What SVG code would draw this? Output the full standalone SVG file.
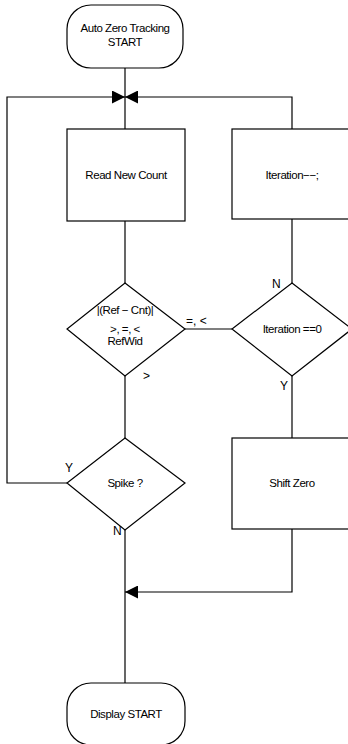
<svg xmlns="http://www.w3.org/2000/svg" width="348" height="744" viewBox="0 0 348 744">
<style>
.s{fill:#fff;stroke:#000;stroke-width:1.2}
.c{fill:none;stroke:#000;stroke-width:1.2}
.t{font-family:"Liberation Sans",Arial,sans-serif;font-size:11.5px;letter-spacing:-0.45px;fill:#000;text-anchor:middle}
.l{font-family:"Liberation Sans",Arial,sans-serif;font-size:12px;fill:#000}
</style>
<defs>
<marker id="ah" viewBox="0 0 10 10" refX="10" refY="5" markerWidth="16" markerHeight="13" markerUnits="userSpaceOnUse" orient="auto">
<path d="M0,0 L10,5 L0,10 z" fill="#000"/>
</marker>
</defs>
<rect width="348" height="744" fill="#fff"/>
<g id="connectors">
<path class="c" d="M125,68 V129"/>
<path class="c" d="M125,221 V283"/>
<path class="c" d="M125,376 V438"/>
<path class="c" d="M125,530 V683"/>
<path class="c" d="M67,483 H7 V97 H125" marker-end="url(#ah)"/>
<path class="c" d="M292,129 V97 H125" marker-end="url(#ah)"/>
<path class="c" d="M292,219 V283"/>
<path class="c" d="M185,329 H232"/>
<path class="c" d="M292,376 V438"/>
<path class="c" d="M292,529 V592 H125" marker-end="url(#ah)"/>
</g>
<g id="start">
<rect class="s" x="67" y="5" width="116" height="63" rx="24" ry="24"/>
<text class="t" x="125" y="32">Auto Zero Tracking</text>
<text class="t" x="125" y="46">START</text>
</g>
<g id="read">
<rect class="s" x="67" y="129" width="118" height="92"/>
<text class="t" x="126" y="179">Read New Count</text>
</g>
<g id="iterdec">
<rect class="s" x="232" y="129" width="120" height="90"/>
<text class="t" x="292" y="179">Iteration−−;</text>
</g>
<g id="compare">
<path class="s" d="M125,283 L185,329 L125,376 L67,329 Z"/>
<text class="t" x="125" y="314">|(Ref − Cnt)|</text>
<text class="t" x="125" y="333">&gt;, =, &lt;</text>
<text class="t" x="125" y="345">RefWid</text>
<text class="l" x="186" y="325">=, &lt;</text>
<text class="l" x="143" y="380">&gt;</text>
</g>
<g id="iterzero">
<path class="s" d="M292,283 L352,329 L292,376 L232,329 Z"/>
<text class="t" x="292" y="333">Iteration ==0</text>
<text class="l" x="272" y="288">N</text>
<text class="l" x="280" y="390">Y</text>
</g>
<g id="spike">
<path class="s" d="M125,438 L185,483 L125,530 L67,483 Z"/>
<text class="t" x="125" y="487">Spike ?</text>
<text class="l" x="65" y="472">Y</text>
<text class="l" x="113" y="535">N</text>
</g>
<g id="shift">
<rect class="s" x="232" y="438" width="120" height="91"/>
<text class="t" x="292" y="487">Shift Zero</text>
</g>
<g id="display">
<rect class="s" x="67" y="683" width="118" height="62" rx="24" ry="24"/>
<text class="t" x="126" y="718">Display START</text>
</g>
</svg>
